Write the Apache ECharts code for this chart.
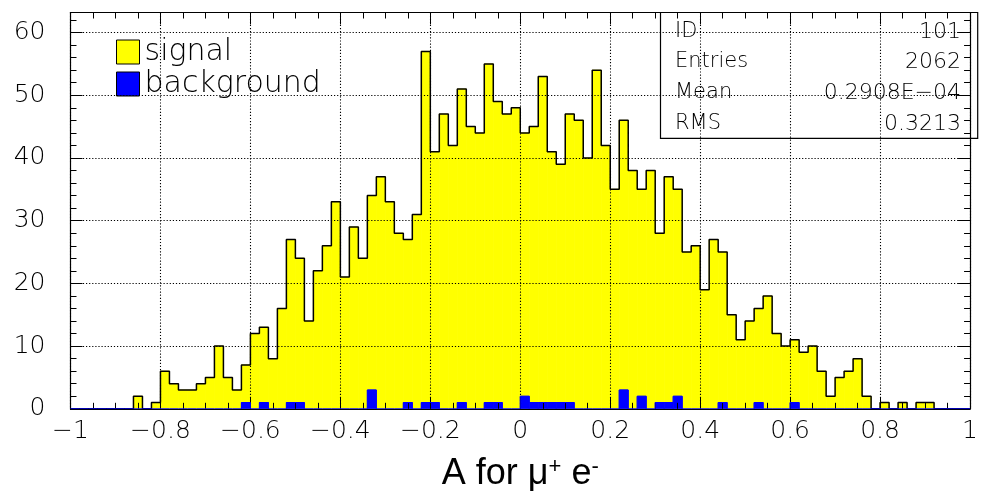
<!DOCTYPE html>
<html>
<head>
<meta charset="utf-8">
<script src="https://cdn.jsdelivr.net/npm/echarts@6/dist/echarts.min.js"></script>
<style>
html,body{margin:0;padding:0;background:#ffffff;}
#chart{width:981px;height:501px;}
</style>
</head>
<body>
<div id="chart"></div>
<script>
// ---- data ----
const binLow = -1;
const binWidth = 0.02;
const signal = [
  0, 0, 0, 0, 0, 0, 0, 2, 0, 1,
  6, 4, 3, 3, 4, 5, 10, 5, 3, 7,
  12, 13, 8, 16, 27, 24, 14, 22, 26, 33,
  21, 29, 24, 34, 37, 33, 28, 27, 31, 57,
  41, 47, 42, 51, 45, 44, 55, 49, 47, 48,
  44, 45, 53, 41, 39, 47, 46, 40, 54, 42,
  35, 46, 38, 35, 38, 28, 37, 35, 25, 26,
  19, 27, 25, 15, 11, 14, 16, 18, 12, 10,
  11, 9, 10, 6, 2, 5, 6, 8, 2, 0,
  1, 0, 1, 0, 1, 1, 0, 0, 0, 0
];
const background = [
  0, 0, 0, 0, 0, 0, 0, 0, 0, 0,
  0, 0, 0, 0, 0, 0, 0, 0, 0, 1,
  0, 1, 0, 0, 1, 1, 0, 0, 0, 0,
  0, 0, 0, 3, 0, 0, 0, 1, 0, 1,
  1, 0, 0, 1, 0, 0, 1, 1, 0, 0,
  2, 1, 1, 1, 1, 1, 0, 0, 0, 0,
  0, 3, 0, 2, 0, 1, 1, 2, 0, 0,
  0, 0, 1, 0, 0, 0, 1, 0, 0, 0,
  1, 0, 0, 0, 0, 0, 0, 0, 0, 0,
  0, 0, 0, 0, 0, 0, 0, 0, 0, 0
];
const seriesNames = ['signal', 'background'];
const statLabels = ['ID', 'Entries', 'Mean', 'RMS'];
const statValues = ['101', '2062', '0.2908E\u221204', '0.3213'];
const xTitle = '{t|A for \u03bc}{s|+}{t| e}{s|-}';

// ---- layout ----
const X_MIN = -1, X_MAX = 1, X_INT = 0.2;
const Y_MIN = 0, Y_MAX = 63.2, Y_INT = 10;
const G = {left: 70.5, right: 3.3, top: 12.5, bottom: 92.2};
const statBox = {x: 660.5, y: 12.5, w: 317.2, h: 125.8, labelX: 675, valueX: 961, rows: [32, 62, 93, 124]};
const FONT = 'DejaVu Sans';
const TEXT_COLOR = '#000000';

function toBins(arr) {
  return arr.map((v, i) => [binLow + i * binWidth, binLow + (i + 1) * binWidth, v]);
}
function toSteps(arr) {
  const pts = arr.map((v, i) => [binLow + i * binWidth, v]);
  pts.push([binLow + arr.length * binWidth, arr[arr.length - 1]]);
  return pts;
}
function rectRenderer(params, api) {
  const v = api.value(2);
  if (!v) return null;
  const a = api.coord([api.value(0), v]);
  const b = api.coord([api.value(1), 0]);
  const c = api.visual('color');
  return {
    type: 'rect',
    shape: {x: a[0], y: a[1], width: b[0] - a[0], height: b[1] - a[1]},
    style: {fill: c, stroke: c, lineWidth: 0.8}
  };
}
function fmtNum(v) {
  const r = Math.round(v * 100) / 100;
  return String(r === 0 ? 0 : r).replace('-', '\u2212');
}

const tickStyle = {color: '#000', width: 1};
const gridLine = {show: true, lineStyle: {color: '#000', width: 1.1, type: [1.2, 1.9]}};

function xAxisDef(pos, main) {
  return {
    type: 'value', position: pos, min: X_MIN, max: X_MAX, interval: X_INT, z: 10,
    axisLine: {show: true, onZero: false, lineStyle: {color: '#000', width: 1.2}},
    axisTick: {show: true, inside: true, length: 12, lineStyle: tickStyle},
    minorTick: {show: true, splitNumber: 4, length: 6, lineStyle: tickStyle},
    splitLine: main ? gridLine : {show: false},
    axisLabel: main ? {show: true, margin: 10, fontSize: 25, fontFamily: FONT, fontWeight: 'lighter', color: TEXT_COLOR, formatter: fmtNum} : {show: false},
    name: main ? xTitle : '',
    nameLocation: 'middle',
    nameGap: 47,
    nameTextStyle: {
      rich: {
        t: {fontSize: 36, fontFamily: 'Liberation Sans', color: '#000'},
        s: {fontSize: 22, fontFamily: 'Liberation Sans', color: '#000', verticalAlign: 'top'}
      }
    }
  };
}
function yAxisDef(pos, main) {
  return {
    type: 'value', position: pos, min: Y_MIN, max: Y_MAX, interval: Y_INT, z: 10,
    axisLine: {show: true, onZero: false, lineStyle: {color: '#000', width: 1.2}},
    axisTick: {show: true, inside: true, length: 12, lineStyle: tickStyle},
    minorTick: {show: true, splitNumber: 5, length: 6, lineStyle: tickStyle},
    splitLine: main ? gridLine : {show: false},
    axisLabel: main ? {show: true, margin: 25, fontSize: 25, fontFamily: FONT, fontWeight: 'lighter', color: TEXT_COLOR, showMaxLabel: false, formatter: fmtNum} : {show: false}
  };
}

const graphics = [{
  type: 'rect', z: 50,
  shape: {x: statBox.x, y: statBox.y, width: statBox.w, height: statBox.h},
  style: {fill: 'none', stroke: '#000', lineWidth: 1.2}
}];
statLabels.forEach((s, i) => {
  graphics.push({type: 'text', z: 50, x: statBox.labelX, y: statBox.rows[i],
    style: {text: s, fontSize: 21, fontFamily: FONT, fontWeight: 'lighter', fill: TEXT_COLOR, align: 'left', textAlign: 'left', verticalAlign: 'middle', textVerticalAlign: 'middle'}});
  graphics.push({type: 'text', z: 50, x: statBox.valueX, y: statBox.rows[i],
    style: {text: statValues[i], fontSize: 22, fontFamily: FONT, fontWeight: 'lighter', fill: TEXT_COLOR, align: 'right', textAlign: 'right', verticalAlign: 'middle', textVerticalAlign: 'middle'}});
});

const chart = echarts.init(document.getElementById('chart'), null, {renderer: 'canvas'});
chart.setOption({
  animation: false,
  backgroundColor: '#ffffff',
  grid: {left: G.left, right: G.right, top: G.top, bottom: G.bottom, containLabel: false},
  legend: {
    orient: 'vertical', left: 116, top: 37, padding: 0,
    itemWidth: 23, itemHeight: 24, itemGap: 2, icon: 'rect',
    data: [
      {name: seriesNames[0], itemStyle: {borderColor: '#000', borderWidth: 1}},
      {name: seriesNames[1], itemStyle: {borderColor: '#000', borderWidth: 1}}
    ],
    textStyle: {fontSize: 30, fontFamily: FONT, fontWeight: 'lighter', color: TEXT_COLOR}
  },
  xAxis: [xAxisDef('bottom', true), xAxisDef('top', false)],
  yAxis: [yAxisDef('left', true), yAxisDef('right', false)],
  graphic: graphics,
  series: [
    {
      name: seriesNames[0], type: 'custom', xAxisIndex: 0, yAxisIndex: 0, z: 2,
      itemStyle: {color: '#ffff00'},
      renderItem: rectRenderer, encode: {x: [0, 1], y: 2},
      data: toBins(signal)
    },
    {
      name: 'signal outline', type: 'line', step: 'end', z: 3, symbol: 'none', silent: true,
      lineStyle: {color: '#000', width: 1.5},
      data: toSteps(signal)
    },
    {
      name: seriesNames[1], type: 'custom', xAxisIndex: 0, yAxisIndex: 0, z: 4,
      itemStyle: {color: '#0000ff'},
      renderItem: rectRenderer, encode: {x: [0, 1], y: 2},
      data: toBins(background)
    },
    {
      name: 'background outline', type: 'line', step: 'end', z: 20, symbol: 'none', silent: true,
      lineStyle: {color: '#0000ff', width: 1},
      data: toSteps(background)
    }
  ]
});
</script>
</body>
</html>
